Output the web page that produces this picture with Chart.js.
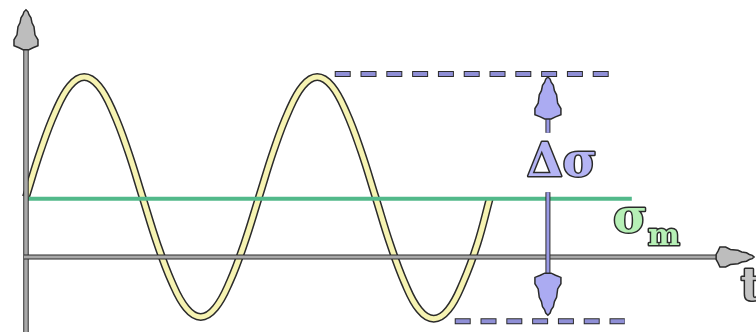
<!DOCTYPE html>
<html>
<head>
<meta charset="utf-8">
<script src="https://cdn.jsdelivr.net/npm/chart.js@4/dist/chart.umd.min.js"></script>
<style>
  html, body { margin: 0; background: #fff; }
  canvas { display: block; }
</style>
</head>
<body>
<canvas id="cycleChart" width="756" height="332"></canvas>
<script>
// time in quarter periods, stress in arbitrary units (0 = time axis)
const tValues = [0, 0.25, 0.5, 0.75, 1, 1.25, 1.5, 1.75, 2, 2.25, 2.5, 2.75, 3, 3.25, 3.5, 3.75,
  4, 4.25, 4.5, 4.75, 5, 5.25, 5.5, 5.75, 6, 6.25, 6.5, 6.75, 7, 7.25, 7.5, 7.75, 7.96];
const sigmaValues = [1.0, 1.77, 2.41, 2.85, 3.0, 2.85, 2.41, 1.77, 1.0, 0.23, -0.41, -0.85, -1.0, -0.85, -0.41, 0.23,
  1.0, 1.77, 2.41, 2.85, 3.0, 2.85, 2.41, 1.77, 1.0, 0.22, -0.43, -0.88, -1.03, -0.88, -0.43, 0.22, 0.97];

// mean stress line
const meanT = [0, 10.4];
const meanSigma = [0.97, 0.97];

// max / min envelope (dashed)
const maxT = [5.3, 10.01];
const maxSigma = [3.05, 3.05];
const minT = [7.36, 10.28];
const minSigma = [-1.07, -1.07];

// stress range arrow
const rangeT = 8.96;
const rangeUpper = [3.0, 2.07];
const rangeLower = [1.08, -0.97];

const pts = (xs, ys) => xs.map((x, i) => ({ x: x, y: ys[i] }));

// stepped spear-shaped arrow head, tip at (0,0) pointing up
const headShape = [[0, 0], [2, 2], [3, 5], [5, 8], [6, 13], [8, 17], [9, 25], [12, 30], [12, 36], [7, 38], [3, 40]];

function arrowHead(ctx, x, y, angle, len, half, fill) {
  ctx.save();
  ctx.translate(x, y);
  ctx.rotate(angle);
  ctx.beginPath();
  headShape.forEach(([w, d], i) => {
    const px = w / 12 * half, py = d / 40 * len;
    if (i === 0) ctx.moveTo(px, py); else ctx.lineTo(px, py);
  });
  for (let i = headShape.length - 1; i > 0; i--) {
    ctx.lineTo(-headShape[i][0] / 12 * half, headShape[i][1] / 40 * len);
  }
  ctx.closePath();
  ctx.fillStyle = fill;
  ctx.fill();
  ctx.lineWidth = 1.5;
  ctx.strokeStyle = '#2b2b2b';
  ctx.stroke();
  ctx.restore();
}

function shaft(ctx, x1, y1, x2, y2, width, fill) {
  ctx.save();
  ctx.lineCap = 'butt';
  ctx.beginPath();
  ctx.moveTo(x1, y1);
  ctx.lineTo(x2, y2);
  ctx.strokeStyle = '#2b2b2b';
  ctx.lineWidth = width + 2;
  ctx.stroke();
  ctx.strokeStyle = fill;
  ctx.lineWidth = width;
  ctx.stroke();
  ctx.restore();
}

function outlinedText(ctx, text, x, y, font, fill) {
  ctx.font = font;
  ctx.textBaseline = 'alphabetic';
  ctx.lineJoin = 'round';
  ctx.lineWidth = 3;
  ctx.strokeStyle = '#2b2b2b';
  ctx.strokeText(text, x, y);
  ctx.fillStyle = fill;
  ctx.fillText(text, x, y);
}

const decorations = {
  id: 'decorations',
  afterDatasetsDraw(chart) {
    const { ctx, scales: { x, y } } = chart;
    const x0 = x.getPixelForValue(0);
    const y0 = y.getPixelForValue(0);
    const axisGray = '#a9a9a9';

    // axes
    shaft(ctx, x0, chart.height, x0, y.getPixelForValue(3.6), 3.5, axisGray);
    arrowHead(ctx, x0, y.getPixelForValue(4.12), 0, 40, 12, '#bdbdbd');
    shaft(ctx, x0 - 2, y0, x.getPixelForValue(11.95), y0, 3, axisGray);
    arrowHead(ctx, x.getPixelForValue(12.5), y0, Math.PI / 2, 38, 10, '#bdbdbd');

    // stress range arrow
    const rx = x.getPixelForValue(rangeT);
    const lav = '#9a9ae6';
    shaft(ctx, rx, y.getPixelForValue(rangeUpper[0]) + 30, rx, y.getPixelForValue(rangeUpper[1]), 3, lav);
    arrowHead(ctx, rx, y.getPixelForValue(rangeUpper[0]), 0, 42, 13, '#ababf2');
    shaft(ctx, rx, y.getPixelForValue(rangeLower[0]), rx, y.getPixelForValue(rangeLower[1]) - 30, 3, lav);
    arrowHead(ctx, rx, y.getPixelForValue(rangeLower[1]), Math.PI, 42, 13, '#ababf2');

    // labels
    ctx.save();
    ctx.textAlign = 'left';
    outlinedText(ctx, 'Δσ', x.getPixelForValue(8.6), y.getPixelForValue(1.35), 'bold 46px "DejaVu Serif"', '#b4b4f4');
    outlinedText(ctx, 'σ', x.getPixelForValue(10.08), y.getPixelForValue(0.42), 'bold 46px "DejaVu Serif"', '#b6f0b6');
    outlinedText(ctx, 'm', x.getPixelForValue(10.68), y.getPixelForValue(0.2), 'bold 30px "DejaVu Serif"', '#b6f0b6');
    outlinedText(ctx, 't', x.getPixelForValue(12.27), y.getPixelForValue(-0.72), 'bold 44px "DejaVu Serif"', '#c4c4c4');
    ctx.restore();
  }
};

const lineBase = { pointRadius: 0, fill: false, borderCapStyle: 'butt' };

new Chart(document.getElementById('cycleChart'), {
  type: 'line',
  data: {
    datasets: [
      { ...lineBase, label: 'σm', data: pts(meanT, meanSigma), borderColor: '#52b98a', borderWidth: 4 },
      { ...lineBase, label: 'σ(t)', data: pts(tValues, sigmaValues), borderColor: '#f6f3b2', borderWidth: 5, tension: 0.4 },
      { ...lineBase, label: 'σ(t) edge', data: pts(tValues, sigmaValues), borderColor: '#2b2b2b', borderWidth: 8, tension: 0.4 },
      { ...lineBase, label: 'σmax', data: pts(maxT, maxSigma), borderColor: '#8f8fd6', borderWidth: 4, borderDash: [14, 11.8], borderDashOffset: -1 },
      { ...lineBase, label: 'σmax edge', data: pts(maxT, maxSigma), borderColor: '#2b2b2b', borderWidth: 6, borderDash: [16, 9.8] },
      { ...lineBase, label: 'σmin', data: pts(minT, minSigma), borderColor: '#8f8fd6', borderWidth: 4, borderDash: [14, 11.8], borderDashOffset: -1 },
      { ...lineBase, label: 'σmin edge', data: pts(minT, minSigma), borderColor: '#2b2b2b', borderWidth: 6, borderDash: [16, 9.8] }
    ]
  },
  options: {
    responsive: false,
    animation: false,
    events: [],
    layout: { padding: 0 },
    scales: {
      x: { type: 'linear', display: false, min: -0.446, max: 12.532 },
      y: { type: 'linear', display: false, min: -1.25, max: 4.283 }
    },
    plugins: {
      legend: { display: false },
      tooltip: { enabled: false }
    }
  },
  plugins: [decorations]
});
</script>
</body>
</html>
